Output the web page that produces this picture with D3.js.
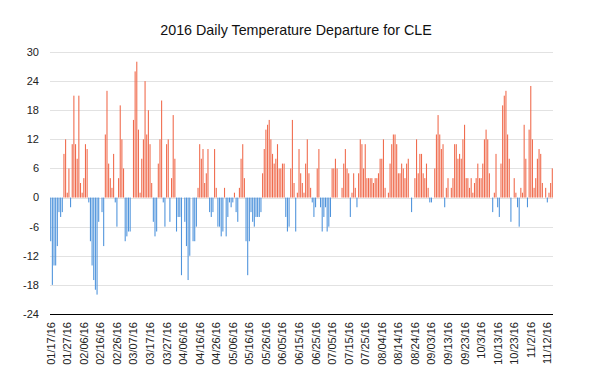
<!DOCTYPE html>
<html>
<head>
<meta charset="utf-8">
<script src="https://cdn.jsdelivr.net/npm/d3@7"></script>
<style>
  html, body { margin: 0; padding: 0; background: #fff; }
  svg { display: block; font-family: "Liberation Sans", Arial, Helvetica, sans-serif; }
</style>
</head>
<body>
<svg id="chart" width="591" height="390"></svg>
<script>
// ---- Data ----
const title = "2016 Daily Temperature Departure for CLE";
const startDate = "2016-01-17";
const departures = [
  -9,-18,-14,-14,-10,-3,-4,-3,9,12,
  1,6,-2,11,21,11,8,21,3,1,
  4,11,10,-1,-9,-14,-17,-19,-20,-5,
  0,-3,-10,13,22,7,4,2,9,-1,
  -6,4,19,12,6,-9,-8,-7,-7,0,
  16,26,28,14,1,8,12,24,13,18,
  11,3,-5,-8,-7,7,12,20,-1,-6,
  11,12,-5,4,17,8,-7,-4,-4,-16,
  0,-5,-10,-17,-12,0,-9,-9,-6,2,
  11,8,10,3,5,10,-3,-4,-3,10,
  2,-6,-6,-8,-7,2,-8,-4,-1,-2,
  -1,1,-3,-5,2,8,11,4,-9,-16,
  -9,-3,-5,-6,-4,-4,-4,-3,5,10,
  14,15,16,12,9,7,8,11,6,6,
  7,7,-4,-7,-6,6,16,3,-7,1,
  10,5,3,1,7,12,5,2,-1,-4,
  -2,6,10,-2,-7,-4,-2,-7,-6,-4,
  6,6,8,6,0,0,2,7,10,6,
  5,-4,1,5,2,-2,5,12,11,6,
  11,4,4,4,4,3,4,4,5,8,
  8,12,2,0,1,7,11,13,13,11,
  5,5,7,6,4,7,8,0,-3,0,
  4,12,5,9,9,5,4,7,2,-1,
  -1,0,6,13,17,13,10,11,-2,2,
  4,0,2,4,11,11,8,9,8,12,
  15,4,4,2,4,1,3,4,7,4,
  4,7,12,14,12,5,0,-3,1,9,
  -2,-4,7,19,21,22,13,8,-5,0,
  4,1,-2,-6,2,1,15,8,-2,14,
  23,12,2,4,8,10,9,3,0,2,
  -1,1,3,6
];
const yTicks = [-24, -18, -12, -6, 0, 6, 12, 18, 24, 30];
const labelEvery = 10;
const posColor = "#f06b4d";
const negColor = "#4f94dc";

// categories: one per day
const start = d3.timeParse("%Y-%m-%d")(startDate);
const dates = departures.map((_, i) => d3.timeDay.offset(start, i));
const fmtPad = d3.timeFormat("%m/%d/%y");
function fmtDate(d) {
  const m = d.getMonth() + 1;
  if (m >= 10) return m + "/" + d.getDate() + "/" + d3.timeFormat("%y")(d);
  return fmtPad(d);
}
const categories = dates.map(fmtDate);

// ---- Layout ----
const svg = d3.select("#chart");
const plot = { left: 50, right: 553, top: 52, bottom: 314 };

const x = d3.scaleBand()
  .domain(categories)
  .range([plot.left, plot.right])
  .paddingInner(0.35)
  .paddingOuter(0.1);

const y = d3.scaleLinear()
  .domain([-24, 30])
  .range([plot.bottom, plot.top]);

// title
svg.append("text")
  .attr("x", 296)
  .attr("y", 35)
  .attr("text-anchor", "middle")
  .attr("font-size", 14.3)
  .attr("fill", "#111")
  .text(title);

// gridlines
svg.append("g")
  .selectAll("line")
  .data(yTicks.filter(t => t !== -24))
  .join("line")
  .attr("x1", plot.left)
  .attr("x2", plot.right)
  .attr("y1", d => Math.round(y(d)) + 0.5)
  .attr("y2", d => Math.round(y(d)) + 0.5)
  .attr("stroke", "#e2e2e2")
  .attr("stroke-width", 1);

// y tick labels
svg.append("g")
  .selectAll("text")
  .data(yTicks)
  .join("text")
  .attr("x", 39)
  .attr("y", d => y(d))
  .attr("dy", "0.35em")
  .attr("text-anchor", "end")
  .attr("font-size", 11)
  .attr("fill", "#222")
  .text(d => d);

// bars
svg.append("g")
  .selectAll("rect")
  .data(departures.map((v, i) => ({ v, c: categories[i] })).filter(d => d.v !== 0))
  .join("rect")
  .attr("x", d => x(d.c))
  .attr("width", x.bandwidth())
  .attr("y", d => y(Math.max(0, d.v)))
  .attr("height", d => Math.abs(y(d.v) - y(0)))
  .attr("fill", d => d.v > 0 ? posColor : negColor);

// bottom axis line
svg.append("line")
  .attr("x1", plot.left)
  .attr("x2", plot.right)
  .attr("y1", Math.round(y(-24)) + 0.5)
  .attr("y2", Math.round(y(-24)) + 0.5)
  .attr("stroke", "#000")
  .attr("stroke-width", 1);

// x tick labels (every 10th day), rotated
const tickCats = categories.filter((_, i) => i % labelEvery === 0);
svg.append("g")
  .selectAll("text")
  .data(tickCats)
  .join("text")
  .attr("transform", d => `translate(${x(d) + x.bandwidth() / 2 + 4},322) rotate(-90)`)
  .attr("text-anchor", "end")
  .attr("font-size", 11)
  .attr("fill", "#222")
  .text(d => d);
</script>
</body>
</html>
